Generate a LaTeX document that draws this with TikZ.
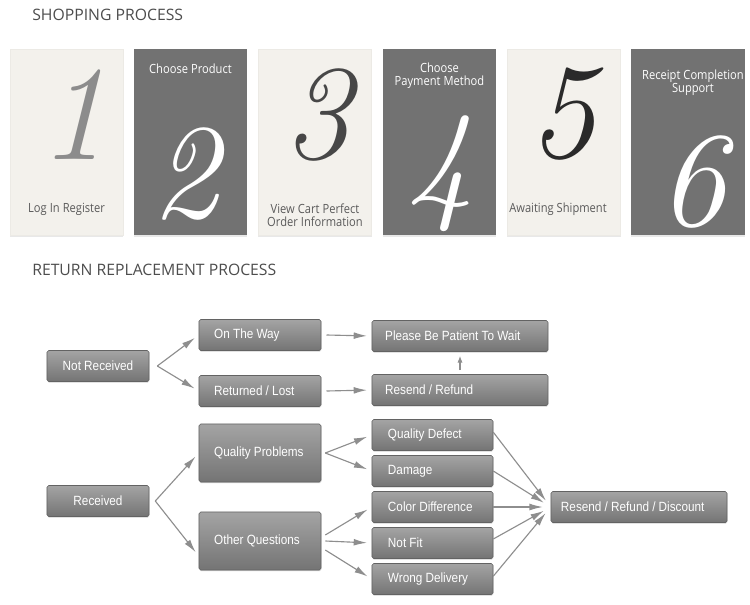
\documentclass[tikz,border=0pt]{standalone}
\usepackage{fontspec}
\usepackage{tikz}
\usetikzlibrary{arrows.meta,positioning,shadows,calc}
\newfontfamily\titlefont{Open Sans}
\newfontfamily\cardfont[FakeStretch=0.88]{Open Sans}
\newfontfamily\flowfont[FakeStretch=0.88]{Liberation Sans}
\newcommand\flowtext{\flowfont\fontsize{9.5}{11}\selectfont\hyphenpenalty=10000\relax}
\definecolor{cardlight}{HTML}{F3F1EC}
\definecolor{carddark}{HTML}{727272}
\definecolor{cardtext}{HTML}{5A5A5A}
\definecolor{titlegray}{HTML}{4D4D4D}
\definecolor{boxtop}{HTML}{A4A4A4}
\definecolor{boxbot}{HTML}{747474}
\definecolor{boxedge}{HTML}{636363}
\definecolor{flowgray}{HTML}{8E8E8E}
\definecolor{numone}{HTML}{8C8C8C}
\definecolor{numthree}{HTML}{474747}
\definecolor{numfive}{HTML}{2A2A2A}
\tikzset{%
  card/.style = {%
    rectangle,
    minimum width=2.825cm,
    minimum height=4.65cm,
    inner sep=0pt,
    drop shadow = {%
      shadow xshift = 0pt,
      shadow yshift = -1.5pt,
      opacity = 0.18}},
  lightcard/.style = {card, fill=cardlight, draw=cardlight!94!gray},
  darkcard/.style = {card, fill=carddark}}

\begin{document}
\begin{tikzpicture}[x=0.025cm, y=-0.025cm,
title/.style={anchor=west, inner sep=0pt, text=titlegray, font=\titlefont\fontsize{11.2}{13}\selectfont},
cardlabel/.style={align=center, inner sep=0pt, font=\cardfont\fontsize{9}{9.3}\selectfont,
  execute at begin node={\spaceskip=0.24em\relax}},
bignum/.style={inner sep=0pt, font=\fontsize{96}{96}\selectfont\itshape},
flowbox/.style={rectangle, rounded corners=1.2pt, draw=boxedge, top color=boxtop, bottom color=boxbot,
  text=white, font=\flowtext, minimum height=0.775cm, inner ysep=0pt,
  execute at begin node={\spaceskip=0.24em\relax},
  drop shadow={shadow xshift=0.3pt, shadow yshift=-0.8pt, opacity=0.35}},
midbox/.style={flowbox, align=center, inner xsep=0.3cm, text width=1.95cm},
askbox/.style={flowbox, align=left, inner xsep=0.38cm, text width=2.29cm},
widebox/.style={flowbox, align=left, inner xsep=0.33cm, text width=3.74cm},
casebox/.style={flowbox, align=left, inner xsep=0.4cm, text width=2.225cm},
endbox/.style={flowbox, align=left, inner xsep=0.25cm, text width=3.9cm},
flow/.style={draw=flowgray, line width=0.8pt, -{Latex[length=0.33cm, width=0.17cm]}, shorten >=0.12cm},
]

\fill[white] (0,0) rectangle (750,605);
\useasboundingbox (0,0) rectangle (750,605);

\node[title]                 (shoptitle)   at (32,15)       {SHOPPING PROCESS};
\node[title]                 (returntitle) at (32,270)      {RETURN REPLACEMENT PROCESS};

\node[lightcard]             (card1)       at (66.5,142)    {};
\node[darkcard]              (card2)       at (190.5,142)   {};
\node[lightcard]             (card3)       at (315,142)     {};
\node[darkcard]              (card4)       at (439.5,142)   {};
\node[lightcard]             (card5)       at (564,142)     {};
\node[darkcard]              (card6)       at (688,142)     {};

\node[bignum, text=numone]   (num1)        at (73,115)      {1};
\node[bignum, text=white]    (num2)        at (185,174)     {2};
\node[bignum, text=numthree] (num3)        at (317,115)     {3};
\node[bignum, text=white]    (num4)        at (440,174)     {4};
\node[bignum, text=numfive]  (num5)        at (562,114)     {5};
\node[bignum, text=white]    (num6)        at (692,182)     {6};

\node[cardlabel, text=cardtext] (lab1)     at (66.5,209)    {Log In Register};
\node[cardlabel, text=white]    (lab2)     at (190.5,69)    {Choose Product};
\node[cardlabel, text=cardtext] (lab3)     at (315,215.5)   {View Cart Perfect\\Order Information};
\node[cardlabel, text=white]    (lab4)     at (439.5,75.5)  {Choose\\Payment Method};
\node[cardlabel, text=cardtext] (lab5)     at (558,209)     {Awaiting Shipment};
\node[cardlabel, text=white]    (lab6)     at (693,82.5)    {Receipt Completion\\Support};

% return and replacement
\node[midbox]                (notrec)      at (98,366)      {Not Received};
\node[midbox]                (rec)         at (98,501)      {Received};

\node[askbox]                (onway)       at (260,335)     {On The Way};
\node[askbox]                (retlost)     at (260,391)     {Returned / Lost};
\node[askbox, minimum height=1.45cm] (qualprob) at (260,453) {Quality Problems};
\node[askbox, minimum height=1.45cm] (otherq)   at (260,541) {Other Questions};

\node[widebox]               (patient)     at (460,336)     {Please Be Patient To Wait};
\node[widebox]               (resend)      at (460,390)     {Resend / Refund};

\node[casebox]               (qdefect)     at (432.5,435)   {Quality Defect};
\node[casebox]               (damage)      at (432.5,471)   {Damage};
\node[casebox]               (colordiff)   at (432.5,507)   {Color Difference};
\node[casebox]               (notfit)      at (432.5,543)   {Not Fit};
\node[casebox]               (wrongdel)    at (432.5,579)   {Wrong Delivery};

\node[endbox]                (resolve)     at (639,507)     {Resend / Refund / Discount};

\draw[flow] ([xshift=0.2cm]notrec.east) -- (onway.west);
\draw[flow] ([xshift=0.2cm]notrec.east) -- (retlost.west);
\draw[flow] ([xshift=0.13cm]onway.east) -- (patient.west);
\draw[flow] ([xshift=0.13cm]retlost.east) -- (resend.west);
\draw[flow, -{Latex[length=0.17cm, width=0.13cm]}, shorten >=0.1cm, shorten <=0.1cm] (resend.north) -- (patient.south);

\draw[flow] ([xshift=0.15cm]rec.east) -- (qualprob.west);
\draw[flow] ([xshift=0.15cm]rec.east) -- ([yshift=-0.375cm]otherq.west);
\draw[flow] ([xshift=0.1cm]qualprob.east) -- (qdefect.west);
\draw[flow] ([xshift=0.1cm]qualprob.east) -- (damage.west);
\draw[flow] ([xshift=0.1cm, yshift=0.15cm]otherq.east) -- (colordiff.west);
\draw[flow] ([xshift=0.1cm]otherq.east) -- (notfit.west);
\draw[flow] ([xshift=0.1cm, yshift=-0.225cm]otherq.east) -- (wrongdel.west);

\draw[flow, shorten >=0.2cm] ([yshift=0.07cm]qdefect.east) -- (resolve.west);
\draw[flow, shorten >=0.2cm] (damage.east) -- (resolve.west);
\draw[flow, shorten >=0.2cm] (colordiff.east) -- (resolve.west);
\draw[flow, shorten >=0.2cm] ([yshift=0.1cm]notfit.east) -- (resolve.west);
\draw[flow, shorten >=0.2cm] ([yshift=0.07cm]wrongdel.east) -- (resolve.west);

\end{tikzpicture}
\end{document}
